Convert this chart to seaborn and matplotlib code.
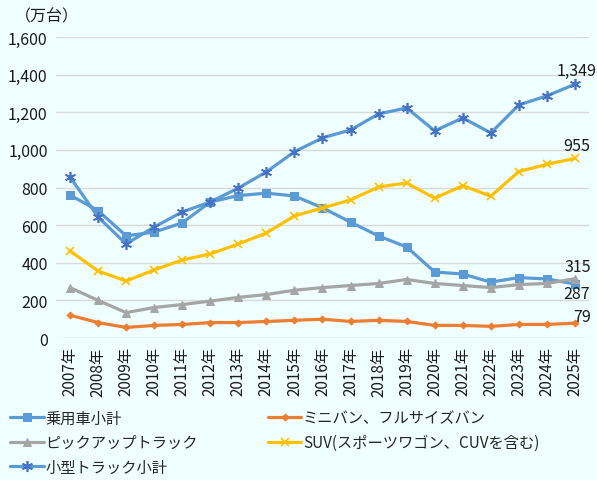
import pandas as pd
import matplotlib.pyplot as plt
import seaborn as sns

# データ（万台）
years = [str(y) + "年" for y in range(2007, 2026)]
jouyousha = [760, 677, 543, 563, 612, 723, 757, 770, 755, 692, 616, 542, 484, 351, 340, 297, 321, 314, 287]
minivan = [121, 82, 56, 67, 72, 82, 82, 88, 94, 100, 88, 94, 88, 67, 67, 62, 72, 72, 79]
pickup = [268, 200, 135, 162, 178, 196, 216, 231, 254, 268, 279, 290, 311, 290, 279, 268, 284, 290, 315]
suv = [463, 356, 303, 362, 415, 447, 500, 558, 649, 691, 734, 803, 824, 743, 810, 754, 885, 923, 955]
kogata = [856, 643, 500, 590, 670, 723, 797, 883, 990, 1064, 1106, 1191, 1223, 1101, 1170, 1090, 1239, 1287, 1349]

series_names = ["乗用車小計", "ミニバン、フルサイズバン", "ピックアップトラック",
                "SUV(スポーツワゴン、CUVを含む)", "小型トラック小計"]
series_vals = [jouyousha, minivan, pickup, suv, kogata]

sns.set_theme(style="white")
plt.rcParams["font.family"] = ["Noto Sans CJK JP", "DejaVu Sans"]

bg = "#F0FFFF"
fig = plt.figure(figsize=(5.97, 4.81), dpi=100, facecolor=bg)
ax = fig.add_axes([0.0938, 0.2952, 0.8928, 0.6258])
ax.set_facecolor(bg)

styles = [
    dict(color="#5B9BD5", marker="s", markersize=5.5, mec="#5B9BD5", mfc="#5B9BD5"),
    dict(color="#ED7D31", marker="D", markersize=3.5, mec="#ED7D31", mfc="#ED7D31"),
    dict(color="#A5A5A5", marker="^", markersize=5.5, mec="#A5A5A5", mfc="#A5A5A5"),
    dict(color="#FFC000", marker="x", markersize=6, mec="#FFC000", mew=1.2),
    dict(color="#5B9BD5", marker=(6, 2, 0), markersize=8, mec="#4472C4", mew=1.2),
]

xs = list(range(len(years)))
handles = []
for name, vals, st in zip(series_names, series_vals, styles):
    df = pd.DataFrame({"x": xs, "y": vals})
    sns.lineplot(data=df, x="x", y="y", ax=ax, linewidth=2.3, label=name, **st)
    handles.append(ax.get_lines()[-1])

ax.set_xlim(-0.5, len(years) - 0.5)
ax.set_ylim(0, 1600)
ax.set_yticks(range(0, 1601, 200))
ax.set_yticklabels([f"{v:,}" for v in range(0, 1601, 200)], fontsize=11.5, color="#1a1a1a")
ax.set_xticks(xs)
ax.set_xticklabels(years, rotation=90, fontsize=11, color="#1a1a1a")
ax.tick_params(axis="both", length=0, pad=6)
ax.grid(axis="y", color="#D9D9D9", linewidth=1)
ax.set_axisbelow(True)
for s in ax.spines.values():
    s.set_visible(False)
ax.set_xlabel("")
ax.set_ylabel("")

fig.text(0.025, 0.965, "（万台）", fontsize=11.5, color="#1a1a1a", va="center", ha="left")

# 最終値ラベル
last = len(years) - 1
lab = dict(fontsize=11.5, color="#1a1a1a", textcoords="offset points")
ax.annotate(f"{kogata[-1]:,}", (last, kogata[-1]), xytext=(1, 4), ha="center", va="bottom", **lab)
ax.annotate(f"{suv[-1]:,}", (last, suv[-1]), xytext=(1, 3), ha="center", va="bottom", **lab)
ax.annotate(f"{pickup[-1]:,}", (last, pickup[-1]), xytext=(2, 3), ha="center", va="bottom", **lab)
ax.annotate(f"{jouyousha[-1]:,}", (last, jouyousha[-1]), xytext=(1, -1), ha="center", va="top", **lab)
ax.annotate(f"{minivan[-1]:,}", (last, minivan[-1]), xytext=(-1, -1), ha="left", va="bottom", **lab)

ax.get_legend().remove()
order = [0, 2, 4, 1, 3]
fig.legend([handles[i] for i in order], [series_names[i] for i in order],
           loc="lower left", bbox_to_anchor=(0.0, -0.012), ncol=2, frameon=False,
           fontsize=11, handlelength=2.2, handletextpad=0.1, columnspacing=4.6,
           labelspacing=0.5, borderaxespad=0.25)

fig.savefig("out.png", dpi=100, facecolor=bg)
